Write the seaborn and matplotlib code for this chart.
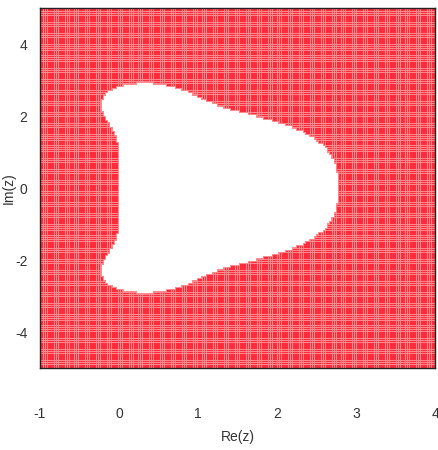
import numpy as np
import pandas as pd
import matplotlib
matplotlib.use("Agg")
import matplotlib.pyplot as plt
import seaborn as sns

# stability polynomial coefficients (classical RK4), evaluated at -z
coeffs = [1.0, 1.0, 1.0 / 2, 1.0 / 6, 1.0 / 24]
x_range = [-1, 4]
y_range = [-5, 5]
n_re = 180
n_im = 165
x_ticks = [-1, 0, 1, 2, 3, 4]
y_ticks = [-4, -2, 0, 2, 4]

re = np.linspace(x_range[0], x_range[1], n_re)
im = np.linspace(y_range[0], y_range[1], n_im)
RE, IM = np.meshgrid(re, im)
Z = -(RE + 1j * IM)
R = sum(c * Z**k for k, c in enumerate(coeffs))
unstable = np.abs(R) > 1.0

df = pd.DataFrame({"Re": RE[unstable], "Im": IM[unstable]})

sns.set_style("white")
plt.rcParams["font.family"] = ["Liberation Sans", "DejaVu Sans"]

fig = plt.figure(figsize=(4.39, 4.5), dpi=100)
ax = fig.add_axes([40 / 439, 1 - 368 / 450, 395 / 439, 360 / 450])

# light under-layer fills the gaps, then the dots on top
sns.scatterplot(data=df, x="Re", y="Im", ax=ax, marker="s", s=9,
                color="#ff8a8e", edgecolor="none", linewidth=0,
                legend=False)
sns.scatterplot(data=df, x="Re", y="Im", ax=ax, marker="s", s=1.3,
                color="#ff2a3a", edgecolor="none", linewidth=0,
                legend=False)

ax.set_xlim(x_range)
ax.set_ylim(y_range)
ax.set_xticks(x_ticks)
ax.set_yticks(y_ticks)
ax.set_xticklabels([str(t) for t in x_ticks])
ax.set_yticklabels([str(t) for t in y_ticks])
ax.tick_params(direction="in", length=5, width=0.8, color="#222222",
               labelsize=10, labelcolor="#333333")
ax.tick_params(axis="x", pad=28)
ax.tick_params(axis="y", pad=9)
for s in ax.spines.values():
    s.set_color("#222222")
    s.set_linewidth(1.0)

ax.set_xlabel("Re(z)", fontsize=10, color="#333333")
ax.set_ylabel("Im(z)", fontsize=10, color="#333333")
ax.xaxis.label.set_va("center")
ax.yaxis.label.set_va("center")
ax.xaxis.set_label_coords((238 - 40) / 395, (368 - 437) / 360)
ax.yaxis.set_label_coords((9 - 40) / 395, 0.5)

fig.savefig("out.png", dpi=100)
